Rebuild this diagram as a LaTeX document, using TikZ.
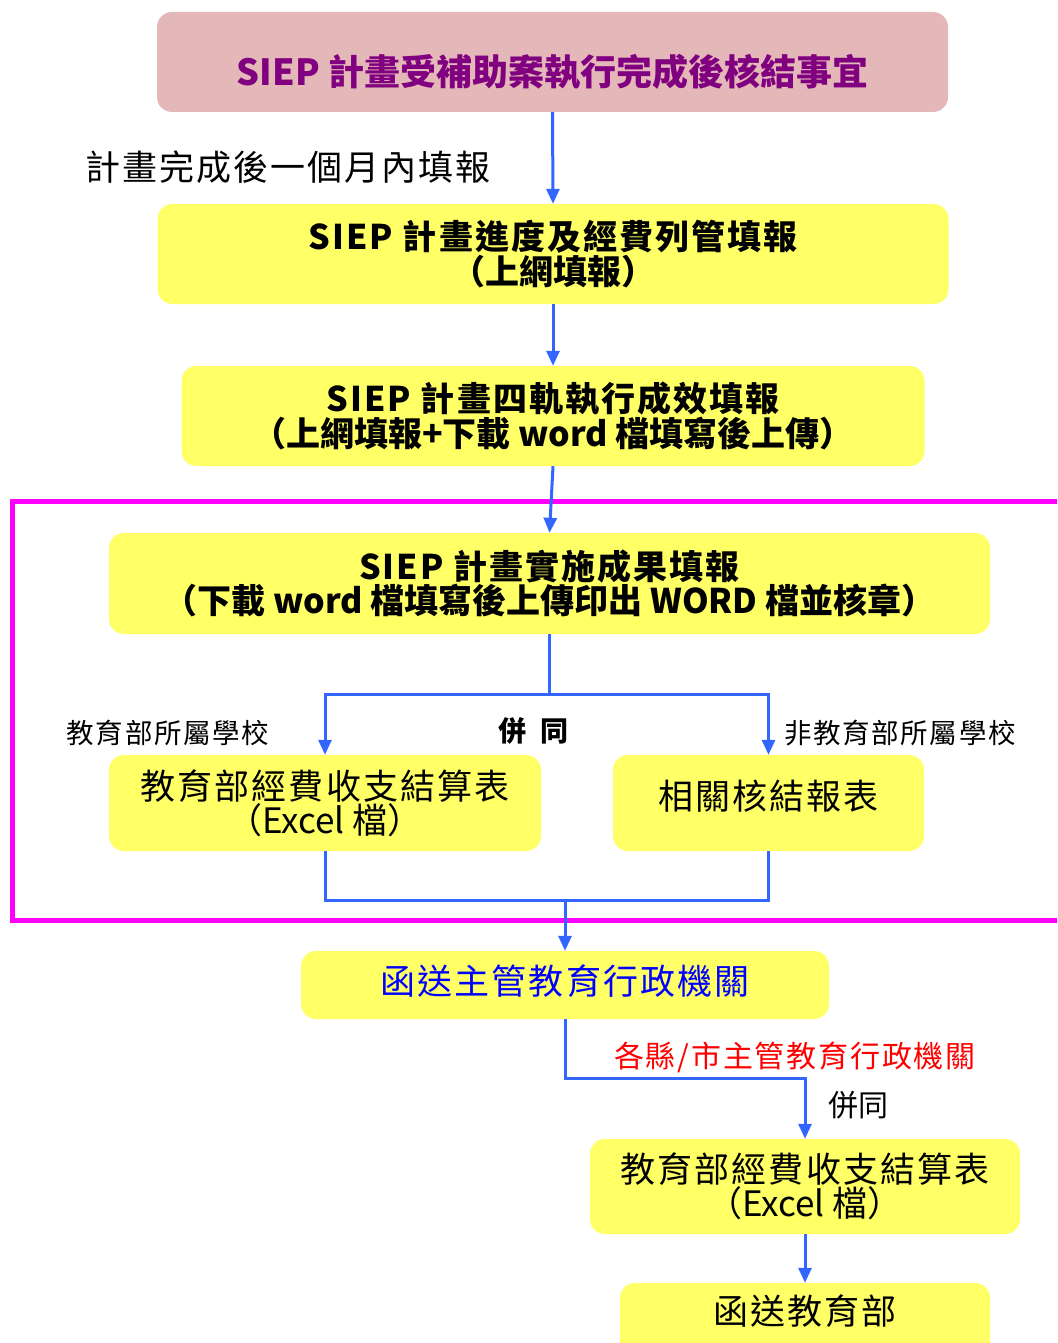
\documentclass[tikz,border=0pt]{standalone}
\usepackage{fontspec}
\setmainfont{Noto Sans CJK TC}
\newfontfamily\spc{Noto Sans CJK TC}[LetterSpace=6]
\usetikzlibrary{arrows.meta}
\definecolor{pinkfill}{RGB}{228,184,184}
\definecolor{yel}{RGB}{255,255,102}
\definecolor{arrblue}{RGB}{51,102,255}
\definecolor{purp}{RGB}{128,0,128}
\definecolor{mag}{RGB}{255,0,255}
\tikzset{
  box/.style={rounded corners=15pt, inner sep=0pt, align=center, text=black},
  ybox/.style={box, fill=yel},
  conn/.style={draw=arrblue, line width=3pt},
  arr/.style={conn, -{Triangle[length=15pt,width=13pt]}},
  lbl/.style={inner sep=0pt, align=center},
}
\begin{document}
\begin{tikzpicture}[x=1pt,y=-1pt]
\useasboundingbox (0,0) rectangle (1057,1343);
\clip (0,0) rectangle (1057,1343);
% group frame
\draw[mag, line width=5pt] (12,501) rectangle (1075,920);
% boxes
\node[box, fill=pinkfill, minimum width=791pt, minimum height=100pt] (t) at (552.5,62) {};
\node[lbl, text=purp] (tt) at (552.5,72) {\fontsize{36}{36}\selectfont\bfseries SIEP 計畫受補助案執行完成後核結事宜};
\node[ybox, minimum width=791pt, minimum height=100pt] (b2) at (553,254)
  {\spc\fontsize{34}{34}\selectfont\bfseries SIEP 計畫進度及經費列管填報\\ \fontsize{34}{34}\selectfont\bfseries（上網填報）};
\node[ybox, minimum width=743pt, minimum height=100pt] (b3) at (553,416)
  {\spc\fontsize{34}{34}\selectfont\bfseries SIEP 計畫四軌執行成效填報\\ \rmfamily\fontsize{34}{34}\selectfont\bfseries（上網填報+下載 word 檔填寫後上傳）};
\node[ybox, minimum width=881pt, minimum height=101pt] (b4) at (549.5,583.5)
  {\spc\fontsize{34}{34}\selectfont\bfseries SIEP 計畫實施成果填報\\ \rmfamily\fontsize{34}{34}\selectfont\bfseries（下載 word 檔填寫後上傳印出 WORD 檔並核章）};
\node[ybox, minimum width=432pt, minimum height=96pt] (b5) at (325,803)
  {\spc\fontsize{35}{33}\selectfont 教育部經費收支結算表\\ \fontsize{35}{33}\selectfont（Excel 檔）};
\node[ybox, minimum width=311pt, minimum height=96pt] (b6) at (768.5,803) {};
\node[lbl] (b6t) at (768.5,796) {\spc\fontsize{35}{35}\selectfont 相關核結報表};
\node[ybox, minimum width=528pt, minimum height=68pt] (b7) at (565,985) {};
\node[lbl, text=blue] (b7t) at (565,981) {\spc\fontsize{35}{35}\selectfont 函送主管教育行政機關};
\node[ybox, minimum width=430pt, minimum height=95pt] (b8) at (805,1186.5)
  {\spc\fontsize{35}{33}\selectfont 教育部經費收支結算表\\ \fontsize{35}{33}\selectfont（Excel 檔）};
\node[ybox, minimum width=370pt, minimum height=76pt] (b9) at (805,1321) {};
\node[lbl] (b9t) at (805,1311) {\spc\fontsize{35}{35}\selectfont 函送教育部};
% labels
\node[lbl] (l1) at (288,167) {\spc\fontsize{35}{35}\selectfont 計畫完成後一個月內填報};
\node[lbl] (l2) at (168,733) {\spc\fontsize{27.5}{27.5}\selectfont 教育部所屬學校};
\node[lbl] (l3) at (533,731) {\fontsize{28}{28}\selectfont\bfseries 併\hspace{14pt}同};
\node[lbl] (l4) at (900,733) {\spc\fontsize{27.5}{27.5}\selectfont 非教育部所屬學校};
\node[lbl, text=red] (l5) at (795,1057) {\spc\fontsize{30}{30}\selectfont 各縣/市主管教育行政機關};
\node[lbl] (l6) at (858,1105) {\fontsize{30}{30}\selectfont 併同};
% connectors
\draw[arr] (t.south) -- (b2.north);
\draw[arr] (b2.south) -- (b3.north);
\draw[arr] (b3.south) -- (b4.north);
\coordinate (j1) at (549.5,694);
\draw[conn] (b4.south) -- (j1);
\draw[arr] (j1) -| (b5.north);
\draw[arr] (j1) -| (b6.north);
\coordinate (j2) at (565,900);
\draw[conn] (b5.south) |- (j2);
\draw[conn] (b6.south) |- (j2);
\draw[arr] (j2) -- (b7.north);
\coordinate (j3) at (565,1078);
\draw[arr] (b7.south) -- (j3) -| (b8.north);
\draw[arr] (b8.south) -- (b9.north);
\end{tikzpicture}
\end{document}
